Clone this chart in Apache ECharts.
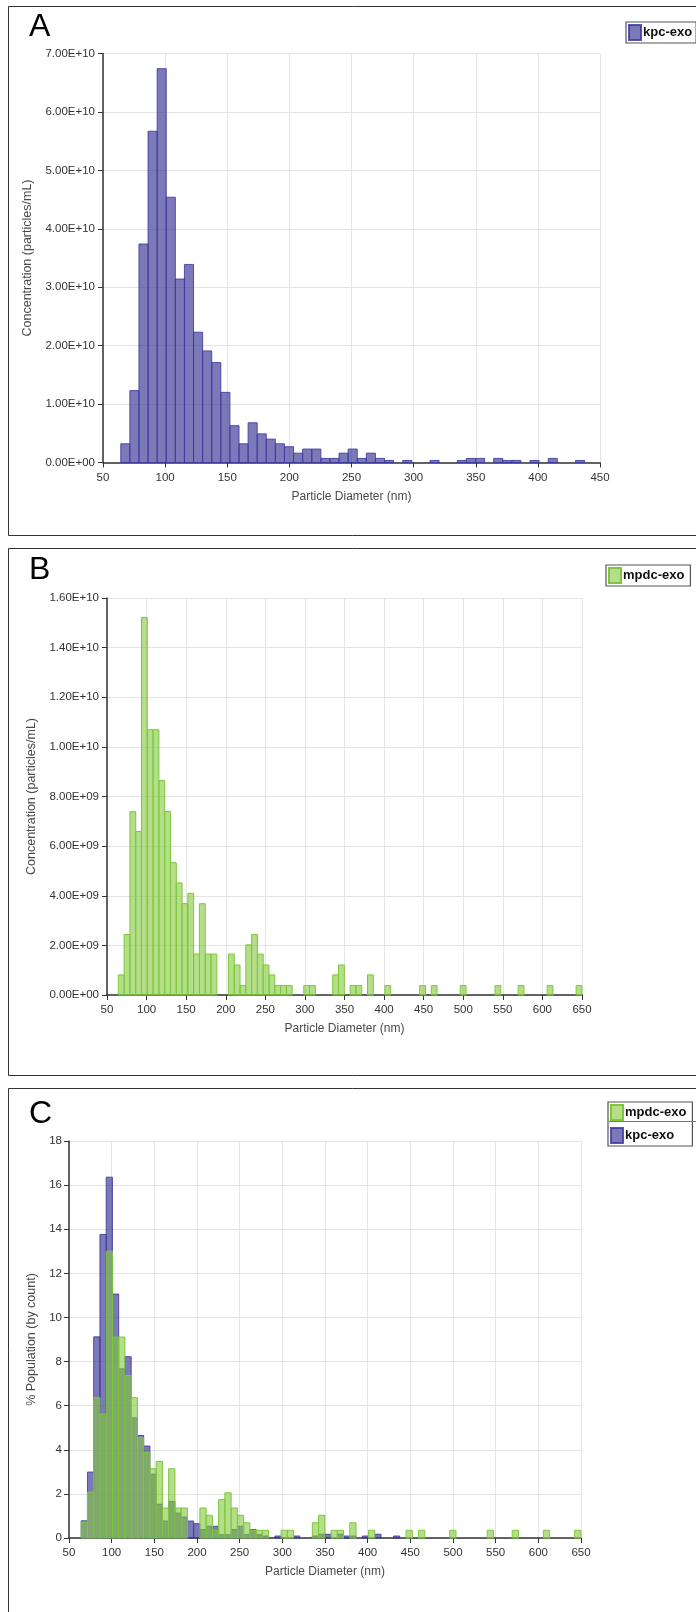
<!DOCTYPE html>
<html>
<head>
<meta charset="utf-8">
<script src="https://cdn.jsdelivr.net/npm/echarts@6/dist/echarts.min.js"></script>
<style>
  html, body { margin: 0; padding: 0; background: #fff; }
  #chart { width: 696px; height: 1612px; }
</style>
</head>
<body>
<div id="chart"></div>
<script>
// ---- Histogram bin grid (nm) ----
const BIN_START = 64.3;
const BIN_WIDTH = 7.32;

// ---- Panel A: kpc-exo concentration (particles/mL), one value per bin ----
const kpcConc = [
  0.32e10, 1.23e10, 3.74e10, 5.67e10, 6.74e10, 4.54e10, 3.14e10, 3.39e10, 2.23e10, 1.91e10,
  1.71e10, 1.20e10, 0.63e10, 0.32e10, 0.68e10, 0.49e10, 0.40e10, 0.32e10, 0.27e10, 0.16e10,
  0.23e10, 0.23e10, 0.07e10, 0.07e10, 0.16e10, 0.23e10, 0.07e10, 0.16e10, 0.07e10, 0.035e10,
  0, 0.035e10, 0, 0, 0.035e10, 0, 0, 0.035e10, 0.07e10, 0.07e10,
  0, 0.07e10, 0.035e10, 0.035e10, 0, 0.035e10, 0, 0.07e10, 0, 0,
  0.035e10
];

// ---- Panel B: mpdc-exo concentration (particles/mL) ----
const mpdcConc = [
  0.81e9, 2.44e9, 7.39e9, 6.59e9, 15.22e9, 10.69e9, 10.69e9, 8.64e9, 7.39e9, 5.33e9,
  4.52e9, 3.68e9, 4.10e9, 1.65e9, 3.68e9, 1.65e9, 1.65e9, 0, 0, 1.65e9,
  1.21e9, 0.38e9, 2.02e9, 2.44e9, 1.65e9, 1.21e9, 0.81e9, 0.38e9, 0.38e9, 0.38e9,
  0, 0, 0.38e9, 0.38e9, 0, 0, 0, 0.81e9, 1.21e9, 0,
  0.38e9, 0.38e9, 0, 0.81e9, 0, 0, 0.38e9, 0, 0, 0,
  0, 0, 0.38e9, 0, 0.38e9, 0, 0, 0, 0, 0.38e9,
  0, 0, 0, 0, 0, 0.38e9, 0, 0, 0, 0.38e9,
  0, 0, 0, 0, 0.38e9, 0, 0, 0, 0, 0.38e9
];

// ---- Panel C: % population (by count) ----
const kpcPct = [
  0.78, 2.99, 9.12, 13.76, 16.36, 11.06, 7.67, 8.22, 5.45, 4.65,
  4.17, 2.89, 1.53, 0.77, 1.66, 1.13, 0.95, 0.77, 0.65, 0.38,
  0.53, 0.53, 0.15, 0.15, 0.38, 0.53, 0.15, 0.38, 0.15, 0.09,
  0, 0.09, 0, 0, 0.09, 0, 0, 0.09, 0.17, 0.17,
  0, 0.17, 0.09, 0.09, 0, 0.09, 0, 0.17, 0, 0,
  0.09
];
const mpdcPct = [
  0.72, 2.08, 6.36, 5.62, 13.0, 9.11, 9.11, 7.37, 6.36, 4.55,
  3.88, 3.14, 3.47, 1.36, 3.14, 1.36, 1.36, 0, 0, 1.36,
  1.03, 0.35, 1.74, 2.05, 1.36, 1.03, 0.69, 0.35, 0.35, 0.35,
  0, 0, 0.35, 0.35, 0, 0, 0, 0.69, 1.03, 0,
  0.35, 0.35, 0, 0.69, 0, 0, 0.35, 0, 0, 0,
  0, 0, 0.35, 0, 0.35, 0, 0, 0, 0, 0.35,
  0, 0, 0, 0, 0, 0.35, 0, 0, 0, 0.35,
  0, 0, 0, 0, 0.35, 0, 0, 0, 0, 0.35
];

const SERIES_NAMES = ['kpc-exo', 'mpdc-exo'];
const PANEL_LETTERS = ['A', 'B', 'C'];
const X_TITLE = 'Particle Diameter (nm)';
const Y_TITLES = ['Concentration (particles/mL)', 'Concentration (particles/mL)', '% Population (by count)'];

// ---- styles ----
const BLUE_FILL = 'rgba(62,58,152,0.68)';
const BLUE_EDGE = 'rgba(60,58,160,0.85)';
const GREEN_FILL = 'rgba(132,200,62,0.6)';
const GREEN_EDGE = '#7cc83a';
const FONT = '"Liberation Sans", Arial, sans-serif';

function toBins(values) {
  const out = [];
  values.forEach((v, k) => {
    if (v > 0) out.push([BIN_START + k * BIN_WIDTH, BIN_START + (k + 1) * BIN_WIDTH, v]);
  });
  return out;
}

function makeRender(fill, edge) {
  return function (params, api) {
    const p0 = api.coord([api.value(0), api.value(2)]);
    const p1 = api.coord([api.value(1), 0]);
    const cs = params.coordSys;
    const shape = echarts.graphic.clipRectByRect(
      { x: p0[0], y: p0[1], width: p1[0] - p0[0], height: p1[1] - p0[1] },
      { x: cs.x, y: cs.y, width: cs.width, height: cs.height + 1 }
    );
    if (!shape) return null;
    return {
      type: 'rect',
      shape: shape,
      style: { fill: fill, stroke: edge, lineWidth: 1 }
    };
  };
}

function sciFmt(v) {
  const parts = v.toExponential(2).split('e');
  const exp = parseInt(parts[1], 10);
  const sign = exp < 0 ? '-' : '+';
  const e = String(Math.abs(exp)).padStart(2, '0');
  return parts[0] + 'E' + sign + e;
}

const axisLabelStyle = { color: '#333', fontSize: 11.5, fontFamily: FONT };
const nameStyle = { color: '#4a4a4a', fontSize: 12.5, fontFamily: FONT };

function xAxisCfg(gridIndex, max) {
  return {
    type: 'value', gridIndex: gridIndex, min: 50, max: max, interval: 50,
    name: X_TITLE, nameLocation: 'middle', nameGap: 28, nameTextStyle: Object.assign({}, nameStyle, { fontSize: 12 }),
    axisLine: { show: true, onZero: false, lineStyle: { color: '#333', width: 1.5 } },
    axisTick: { show: true, length: 5, lineStyle: { color: '#333' } },
    axisLabel: Object.assign({ margin: 9 }, axisLabelStyle),
    splitLine: { show: true, lineStyle: { color: '#e4e4e4', width: 1 } }
  };
}
function yAxisCfg(gridIndex, max, interval, sci, name, gap, margin) {
  return {
    type: 'value', gridIndex: gridIndex, min: 0, max: max, interval: interval,
    name: name, nameLocation: 'middle', nameGap: gap, nameRotate: 90, nameTextStyle: nameStyle,
    axisLine: { show: true, lineStyle: { color: '#333', width: 1.5 } },
    axisTick: { show: true, length: 5, lineStyle: { color: '#333' } },
    axisLabel: Object.assign({ margin: margin, formatter: sci ? sciFmt : (v) => String(v) }, axisLabelStyle),
    splitLine: { show: true, lineStyle: { color: '#e4e4e4', width: 1 } }
  };
}

function legendCfg(top, left, names, padRight) {
  return {
    top: top, left: left, orient: 'vertical',
    data: names,
    icon: 'rect', itemWidth: 12, itemHeight: 15, itemGap: 6,
    padding: [2, padRight, 2, 2],
    borderColor: '#555', borderWidth: 1.2, borderRadius: 0,
    backgroundColor: '#fff',
    selectedMode: false,
    textStyle: { color: '#111', fontSize: 13, fontWeight: 'bold', fontFamily: '"Liberation Sans Narrow", "Liberation Sans", Arial, sans-serif', padding: [0, 0, 0, -3] }
  };
}

const chart = echarts.init(document.getElementById('chart'), null, { renderer: 'canvas' });

const option = {
  animation: false,
  backgroundColor: '#fff',
  graphic: [
    { type: 'rect', shape: { x: 8.5, y: 6.5, width: 720, height: 529 }, style: { fill: 'none', stroke: '#333', lineWidth: 1 }, silent: true },
    { type: 'rect', shape: { x: 8.5, y: 548.5, width: 720, height: 527 }, style: { fill: 'none', stroke: '#333', lineWidth: 1 }, silent: true },
    { type: 'rect', shape: { x: 8.5, y: 1088.5, width: 720, height: 560 }, style: { fill: 'none', stroke: '#333', lineWidth: 1 }, silent: true },
    { type: 'text', left: 29, top: 11, style: { text: PANEL_LETTERS[0], fontSize: 32, fontFamily: FONT, fill: '#000' } },
    { type: 'text', left: 29, top: 554, style: { text: PANEL_LETTERS[1], fontSize: 32, fontFamily: FONT, fill: '#000' } },
    { type: 'text', left: 29, top: 1098, style: { text: PANEL_LETTERS[2], fontSize: 32, fontFamily: FONT, fill: '#000' } },
    { type: 'line', z: 100, shape: { x1: 609, y1: 1121.5, x2: 696, y2: 1121.5 }, style: { stroke: '#777', lineWidth: 1 }, silent: true }
  ],
  legend: [
    legendCfg(22, 626, [SERIES_NAMES[0]], 4),
    legendCfg(565, 606, [SERIES_NAMES[1]], 6),
    legendCfg(1102, 608, [SERIES_NAMES[1], SERIES_NAMES[0]], 6)
  ],
  grid: [
    { left: 103, top: 53.5, width: 497, height: 409 },
    { left: 107, top: 598, width: 475, height: 397 },
    { left: 69, top: 1141, width: 512, height: 397 }
  ],
  xAxis: [
    xAxisCfg(0, 450),
    xAxisCfg(1, 650),
    xAxisCfg(2, 650)
  ],
  yAxis: [
    yAxisCfg(0, 7e10, 1e10, true, Y_TITLES[0], 62, 8),
    yAxisCfg(1, 1.6e10, 2e9, true, Y_TITLES[1], 66, 8),
    yAxisCfg(2, 18, 2, false, Y_TITLES[2], 31, 7)
  ],
  series: [
    {
      name: SERIES_NAMES[0], type: 'custom', xAxisIndex: 0, yAxisIndex: 0,
      renderItem: makeRender(BLUE_FILL, BLUE_EDGE), encode: { x: [0, 1], y: 2 },
      itemStyle: { color: BLUE_FILL, borderColor: BLUE_EDGE, borderWidth: 1 },
      data: toBins(kpcConc)
    },
    {
      name: SERIES_NAMES[1], type: 'custom', xAxisIndex: 1, yAxisIndex: 1,
      renderItem: makeRender(GREEN_FILL, GREEN_EDGE), encode: { x: [0, 1], y: 2 },
      itemStyle: { color: GREEN_FILL, borderColor: GREEN_EDGE, borderWidth: 1 },
      data: toBins(mpdcConc)
    },
    {
      name: SERIES_NAMES[0], type: 'custom', xAxisIndex: 2, yAxisIndex: 2,
      renderItem: makeRender(BLUE_FILL, BLUE_EDGE), encode: { x: [0, 1], y: 2 },
      itemStyle: { color: BLUE_FILL, borderColor: BLUE_EDGE, borderWidth: 1 },
      data: toBins(kpcPct)
    },
    {
      name: SERIES_NAMES[1], type: 'custom', xAxisIndex: 2, yAxisIndex: 2,
      renderItem: makeRender(GREEN_FILL, GREEN_EDGE), encode: { x: [0, 1], y: 2 },
      itemStyle: { color: GREEN_FILL, borderColor: GREEN_EDGE, borderWidth: 1 },
      data: toBins(mpdcPct)
    }
  ]
};
chart.setOption(option);
</script>
</body>
</html>
